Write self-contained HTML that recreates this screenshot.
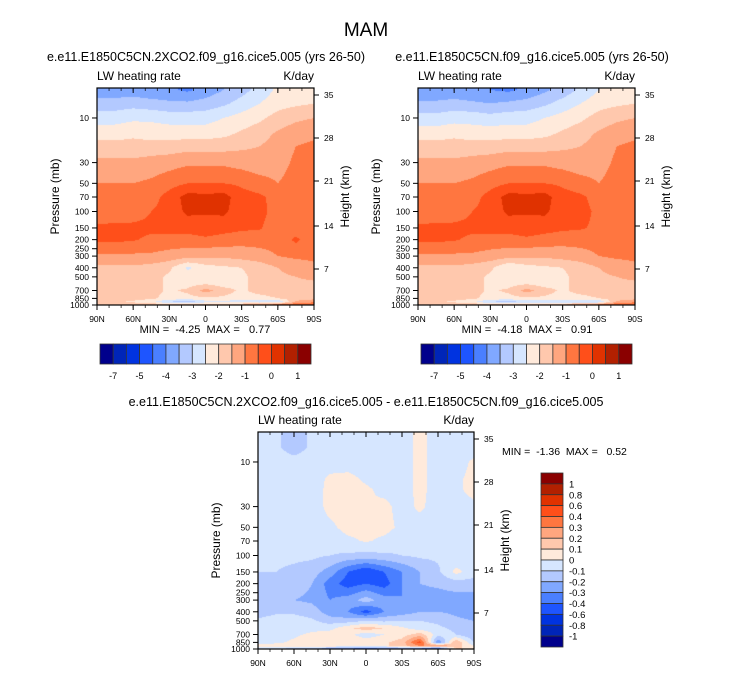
<!DOCTYPE html>
<html><head><meta charset="utf-8"><style>
body{margin:0;background:#fff;width:733px;height:673px;overflow:hidden;position:relative;font-family:"Liberation Sans",sans-serif}
canvas{position:absolute}
svg{position:absolute;left:0;top:0}
text{white-space:pre}
</style></head><body>
<canvas id="c1" style="left:97px;top:88px" width="217" height="217"></canvas>
<canvas id="c2" style="left:418px;top:88px" width="217" height="217"></canvas>
<canvas id="c3" style="left:258px;top:432px" width="216" height="217"></canvas>
<svg id="s" width="733" height="673" font-family="Liberation Sans, sans-serif"></svg>
<script>
const lats=[90,75,60,45,30,15,0,-15,-30,-45,-60,-75,-90];
const levels=[5,7,10,15,20,30,50,70,100,150,200,300,400,500,600,700,850,925,1000];
const fieldA=[
[-3.8,-3.8,-3.8,-3.9,-3.9,-4.1,-3.8,-3.5,-3.2,-2.8,-2.4,-2.3,-2.2],
[-3.3,-3.3,-3.2,-3.3,-3.4,-3.4,-3.3,-3.1,-2.8,-2.5,-2.2,-2.1,-2.0],
[-2.7,-2.7,-2.6,-2.6,-2.7,-2.7,-2.7,-2.5,-2.3,-2.1,-1.8,-1.6,-1.5],
[-2.2,-2.2,-2.1,-2.2,-2.2,-2.2,-2.2,-2.1,-1.9,-1.7,-1.4,-1.2,-1.1],
[-1.8,-1.8,-1.8,-1.8,-1.8,-1.7,-1.7,-1.7,-1.6,-1.5,-1.3,-1.0,-0.9],
[-1.4,-1.4,-1.4,-1.3,-1.2,-1.1,-1.1,-1.1,-1.2,-1.3,-1.2,-0.9,-0.8],
[-1.0,-1.0,-1.0,-0.9,-0.7,-0.5,-0.5,-0.5,-0.6,-0.8,-1.0,-0.8,-0.7],
[-0.9,-0.9,-0.85,-0.7,-0.3,0.2,0.15,0.2,-0.3,-0.4,-0.7,-0.7,-0.7],
[-0.8,-0.75,-0.7,-0.5,-0.3,0.1,0.05,0.1,-0.3,-0.35,-0.7,-0.7,-0.7],
[-0.4,-0.4,-0.4,-0.4,-0.3,-0.3,-0.2,-0.3,-0.4,-0.45,-0.8,-0.8,-0.8],
[-0.4,-0.4,-0.45,-0.6,-0.7,-0.7,-0.6,-0.7,-0.8,-0.8,-0.8,-0.4,-0.8],
[-1.1,-1.1,-1.1,-1.1,-1.2,-1.3,-1.4,-1.4,-1.3,-1.2,-1.0,-0.9,-0.9],
[-1.6,-1.6,-1.6,-1.7,-1.9,-2.6,-2.2,-2.1,-2.0,-1.8,-1.5,-1.3,-1.1],
[-1.7,-1.7,-1.7,-1.8,-2.1,-2.2,-2.2,-2.2,-2.1,-1.8,-1.6,-1.5,-1.4],
[-1.7,-1.7,-1.7,-1.8,-2.1,-2.2,-2.0,-2.2,-2.1,-1.8,-1.6,-1.6,-1.6],
[-1.7,-1.7,-1.7,-1.8,-2.1,-1.9,-1.3,-1.8,-2.1,-1.8,-1.7,-1.8,-1.9],
[-1.7,-1.7,-1.8,-1.9,-2.2,-2.2,-2.1,-2.1,-2.2,-2.2,-2.0,-1.8,-1.7],
[-1.8,-1.9,-2.1,-2.4,-3.0,-3.4,-2.7,-2.7,-2.8,-2.9,-3.0,-1.4,-1.0],
[-1.5,-1.5,-1.5,-1.5,-1.5,-1.5,-1.5,-1.4,-1.3,-1.0,-0.5,-0.4,-0.8]];
const fieldB=[
[-3.9,-3.9,-3.9,-4.0,-4.0,-4.1,-3.9,-3.6,-3.3,-2.9,-2.5,-2.3,-2.2],
[-3.4,-3.4,-3.3,-3.4,-3.5,-3.4,-3.3,-3.1,-2.8,-2.5,-2.2,-2.1,-2.0],
[-2.8,-2.8,-2.7,-2.7,-2.8,-2.7,-2.7,-2.5,-2.3,-2.1,-1.8,-1.6,-1.5],
[-2.2,-2.2,-2.1,-2.2,-2.2,-2.2,-2.2,-2.1,-1.9,-1.7,-1.4,-1.2,-1.1],
[-1.8,-1.8,-1.8,-1.8,-1.8,-1.7,-1.7,-1.7,-1.6,-1.5,-1.3,-1.0,-0.9],
[-1.4,-1.4,-1.4,-1.3,-1.2,-1.1,-1.1,-1.1,-1.2,-1.3,-1.2,-0.9,-0.8],
[-1.0,-1.0,-1.0,-0.9,-0.7,-0.5,-0.5,-0.5,-0.6,-0.8,-1.0,-0.8,-0.7],
[-0.9,-0.9,-0.85,-0.7,-0.3,0.2,0.15,0.2,-0.3,-0.4,-0.7,-0.7,-0.7],
[-0.8,-0.75,-0.7,-0.5,-0.3,0.1,0.05,0.1,-0.3,-0.35,-0.6,-0.7,-0.7],
[-0.4,-0.4,-0.4,-0.4,-0.3,-0.3,-0.2,-0.3,-0.4,-0.45,-0.6,-0.8,-0.8],
[-0.4,-0.4,-0.45,-0.6,-0.7,-0.7,-0.6,-0.7,-0.8,-0.8,-0.8,-0.8,-0.8],
[-1.1,-1.1,-1.1,-1.1,-1.2,-1.3,-1.4,-1.4,-1.3,-1.2,-1.0,-0.9,-0.9],
[-1.6,-1.6,-1.6,-1.7,-1.9,-2.5,-2.2,-2.1,-2.0,-1.8,-1.5,-1.3,-1.1],
[-1.7,-1.7,-1.7,-1.8,-2.1,-2.2,-2.2,-2.2,-2.1,-1.8,-1.6,-1.5,-1.4],
[-1.7,-1.7,-1.7,-1.8,-2.1,-2.2,-2.0,-2.2,-2.1,-1.8,-1.6,-1.6,-1.6],
[-1.7,-1.7,-1.7,-1.8,-2.1,-1.9,-1.3,-1.8,-2.1,-1.8,-1.7,-1.8,-1.9],
[-1.7,-1.7,-1.8,-1.9,-2.2,-2.2,-2.1,-2.1,-2.2,-2.2,-2.0,-1.8,-1.7],
[-1.8,-1.9,-2.1,-2.4,-3.0,-3.3,-2.8,-2.8,-2.9,-3.0,-3.0,-1.4,-1.0],
[-1.5,-1.5,-1.5,-1.5,-1.5,-1.5,-1.5,-1.4,-1.3,-1.0,-0.6,-0.4,-0.8]];
const fieldD=[
[-0.05,-0.08,-0.15,-0.08,-0.05,-0.05,-0.05,-0.05,-0.05,0.03,-0.05,-0.05,-0.05],
[-0.05,-0.08,-0.15,-0.08,-0.05,-0.05,-0.05,-0.05,-0.05,0.03,-0.05,-0.05,-0.05],
[-0.05,-0.05,-0.06,-0.05,-0.05,-0.05,-0.05,-0.05,-0.05,0.03,-0.05,-0.05,0.02],
[-0.05,-0.05,-0.05,-0.05,0.02,0.03,-0.02,-0.05,-0.05,0.03,-0.05,-0.02,0.03],
[-0.05,-0.05,-0.05,-0.05,0.03,0.03,0.02,-0.03,-0.05,0.03,-0.05,-0.02,0.03],
[-0.05,-0.05,-0.05,-0.05,0.03,0.03,0.0,0.03,-0.04,0.02,-0.05,-0.05,-0.02],
[-0.05,-0.05,-0.05,-0.05,-0.02,0.03,0.03,0.03,-0.02,-0.05,-0.05,-0.05,-0.05],
[-0.05,-0.05,-0.05,-0.05,-0.05,-0.02,0.01,-0.02,-0.05,-0.05,-0.05,-0.05,-0.05],
[-0.07,-0.08,-0.08,-0.08,-0.1,-0.12,-0.13,-0.12,-0.1,-0.08,-0.08,-0.08,-0.07],
[-0.1,-0.1,-0.12,-0.15,-0.25,-0.4,-0.5,-0.4,-0.3,-0.2,-0.12,0.03,-0.05],
[-0.1,-0.12,-0.15,-0.2,-0.35,-0.45,-0.4,-0.45,-0.3,-0.2,-0.18,-0.15,-0.15],
[-0.15,-0.18,-0.2,-0.22,-0.3,-0.25,-0.15,-0.25,-0.3,-0.25,-0.25,-0.25,-0.25],
[-0.15,-0.12,-0.12,-0.15,-0.25,-0.3,-0.45,-0.3,-0.25,-0.2,-0.2,-0.22,-0.25],
[-0.08,-0.05,-0.05,-0.08,-0.15,-0.15,-0.1,-0.12,-0.1,-0.1,-0.12,-0.18,-0.2],
[-0.05,-0.05,-0.05,-0.03,-0.03,0.08,0.15,0.1,0.02,-0.05,-0.08,-0.12,-0.15],
[-0.1,-0.05,-0.02,0.02,0.05,0.03,-0.05,0.0,0.05,0.15,-0.05,-0.1,-0.2],
[-0.05,-0.02,0.02,0.1,0.08,0.05,0.05,0.08,0.15,0.45,-0.3,0.2,-0.1],
[0.05,0.05,0.05,0.08,0.1,0.05,0.05,0.08,0.15,0.3,0.3,0.15,0.0],
[-0.05,-0.1,-0.15,-0.2,-0.3,-0.35,-0.4,-0.35,-0.3,-0.4,-0.5,0.1,0.1]];
const boundsTop=[-7,-6,-5,-4.5,-4,-3.5,-3,-2.5,-2,-1.5,-1,-0.5,0,0.5,1];
const boundsDiff=[-1,-0.8,-0.6,-0.4,-0.3,-0.2,-0.1,0,0.1,0.2,0.3,0.4,0.6,0.8,1];
const topBarLabels=["-7","-5","-4","-3","-2","-1","0","1"];
const diffBarLabels=["1","0.8","0.6","0.4","0.3","0.2","0.1","0","-0.1","-0.2","-0.3","-0.4","-0.6","-0.8","-1"];
const pTicks=[10,30,50,70,100,150,200,250,300,400,500,700,850,1000];
const hTicks=[35,28,21,14,7];
const hOffsets=[7,50,93,138,181];
const latTicks=["90N","60N","30N","0","30S","60S","90S"];
const palette=["#00008c","#0025b8","#0033e0","#1e55ff","#4a7fff","#80a8ff","#b3c9ff","#d6e6ff","#ffeadb","#ffc8ad","#ffa67f","#ff7640","#ff4f1a","#e03200","#b22000","#8a0000"];

const PTOP=4.78,PBOT=1000;
function yOfP(p,h){return (Math.log10(p)-Math.log10(PTOP))/(Math.log10(PBOT)-Math.log10(PTOP))*h;}
function hex(c){return [parseInt(c.substr(1,2),16),parseInt(c.substr(3,2),16),parseInt(c.substr(5,2),16)];}
function colorIdx(v,b){let i=0;while(i<b.length&&v>=b[i])i++;return i;}
function drawField(id,field,bounds){
  const cv=document.getElementById(id),ctx=cv.getContext('2d'),W=cv.width,H=cv.height;
  const img=ctx.createImageData(W,H);const pal=palette.map(hex);
  const lp=levels.map(p=>Math.log10(p));
  for(let y=0;y<H;y++){
    const l=Math.log10(PTOP)+(y+0.5)/H*(Math.log10(PBOT)-Math.log10(PTOP));
    let k=0;while(k<lp.length-2&&l>lp[k+1])k++;
    let ty=(l-lp[k])/(lp[k+1]-lp[k]);ty=Math.max(0,Math.min(1,ty));
    for(let x=0;x<W;x++){
      const fx=(x+0.5)/W*(lats.length-1);let j=Math.min(lats.length-2,Math.floor(fx));const tx=fx-j;
      const v=(field[k][j]*(1-tx)+field[k][j+1]*tx)*(1-ty)+(field[k+1][j]*(1-tx)+field[k+1][j+1]*tx)*ty;
      const c=pal[colorIdx(v,bounds)];const o=(y*W+x)*4;
      img.data[o]=c[0];img.data[o+1]=c[1];img.data[o+2]=c[2];img.data[o+3]=255;
    }
  }
  ctx.putImageData(img,0,0);
}
drawField('c1',fieldA,boundsTop);drawField('c2',fieldB,boundsTop);drawField('c3',fieldD,boundsDiff);

const S=document.getElementById('s');const NS='http://www.w3.org/2000/svg';
function el(tag,attrs,txt){const e=document.createElementNS(NS,tag);for(const k in attrs)e.setAttribute(k,attrs[k]);if(txt!==undefined)e.textContent=txt;S.appendChild(e);return e;}
function txt(x,y,s,size,anchor,name,extra){const e=el('text',Object.assign({x:x,y:y,'font-size':size,'text-anchor':anchor||'middle',fill:'#000'},extra||{}),s);return e;}

function axes(X,Y,W,H,pfx){
  const f=el('rect',{x:X,y:Y,width:W,height:H,fill:'none',stroke:'#000','stroke-width':1.2});
  
  txt(X,Y-8,'LW heating rate',12,'start',pfx+'-variable-label');
  txt(X+W,Y-8,'K/day',12,'end',pfx+'-units-label');
  for(let i=0;i<latTicks.length;i++){const x=X+i*W/6;
    el('line',{x1:x,y1:Y+H,x2:x,y2:Y+H+5,stroke:'#000'});
    el('line',{x1:x,y1:Y,x2:x,y2:Y+5,stroke:'#000'});
    txt(x,Y+H+17,latTicks[i],8.5,'middle',pfx+'-x-tick-label');}
  for(let i=0;i<=18;i++){const x=X+i*W/18;
    el('line',{x1:x,y1:Y+H,x2:x,y2:Y+H+3,stroke:'#000','stroke-width':0.7});
    el('line',{x1:x,y1:Y,x2:x,y2:Y+3,stroke:'#000','stroke-width':0.7});}
  for(const p of pTicks){const y=Y+yOfP(p,H);
    el('line',{x1:X-5,y1:y,x2:X,y2:y,stroke:'#000'});
    txt(X-8,y+3,String(p),8.5,'end',pfx+'-pressure-tick-label');}
  for(let i=0;i<hTicks.length;i++){const y=Y+hOffsets[i];
    el('line',{x1:X+W,y1:y,x2:X+W+5,y2:y,stroke:'#000'});
    txt(X+W+10,y+3,String(hTicks[i]),8.5,'start',pfx+'-height-tick-label');}
  txt(0,0,'Pressure (mb)',12,'middle',pfx+'-y-axis-title',{transform:`translate(${X-38},${Y+H/2}) rotate(-90)`});
  txt(0,0,'Height (km)',12,'middle',pfx+'-right-axis-title',{transform:`translate(${X+W+35},${Y+H/2}) rotate(-90)`});
}
function hbar(X,Y,W,H,pfx){
  const bw=W/16;
  for(let i=0;i<16;i++){const r=el('rect',{x:X+i*bw,y:Y,width:bw,height:H,fill:palette[i],stroke:'#333','stroke-width':0.8});
    }
  for(let i=0;i<topBarLabels.length;i++){const x=X+(1+2*i)*bw;
    txt(x,Y+H+15,topBarLabels[i],9,'middle',pfx+'-colorbar-label');}
}
txt(366,36,'MAM',19,'middle','figure-title');
txt(206,61,'e.e11.E1850C5CN.2XCO2.f09_g16.cice5.005 (yrs 26-50)',12.5,'middle','left-panel-title');
txt(532,61,'e.e11.E1850C5CN.f09_g16.cice5.005 (yrs 26-50)',12.5,'middle','right-panel-title');
axes(97,88,217,217,'left');axes(418,88,217,217,'right');axes(258,432,216,217,'diff');
txt(205,333,'MIN =  -4.25  MAX =   0.77',11,'middle','left-min-max');
txt(527,333,'MIN =  -4.18  MAX =   0.91',11,'middle','right-min-max');
hbar(100,344,211,20,'left');hbar(421,344,211,20,'right');
txt(366,406,'e.e11.E1850C5CN.2XCO2.f09_g16.cice5.005 - e.e11.E1850C5CN.f09_g16.cice5.005',12.5,'middle','diff-panel-title');
txt(502,455,'MIN =  -1.36  MAX =   0.52',10.5,'start','diff-min-max');
(function(){const X=541,Y=473,W=22,H=174,bh=H/16;
  for(let i=0;i<16;i++){const r=el('rect',{x:X,y:Y+i*bh,width:W,height:bh,fill:palette[15-i],stroke:'#333','stroke-width':0.8});
    }
  for(let i=0;i<diffBarLabels.length;i++){txt(X+W+6,Y+(i+1)*bh+3.5,diffBarLabels[i],9.5,'start','diff-colorbar-label');}
})();
</script>
</body></html>
